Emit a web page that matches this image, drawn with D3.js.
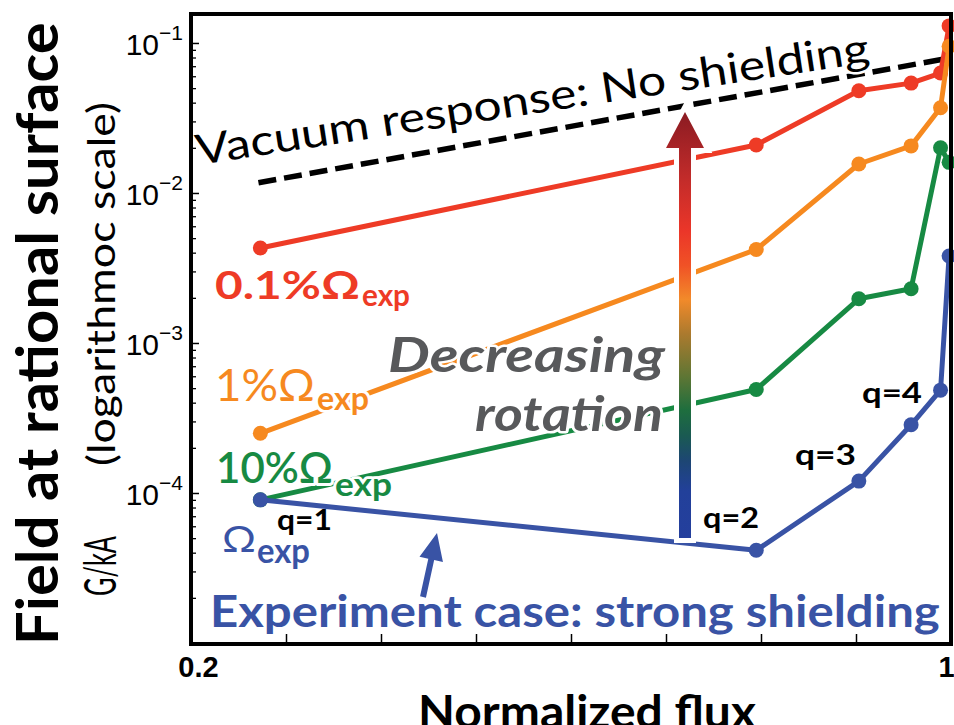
<!DOCTYPE html>
<html>
<head>
<meta charset="utf-8">
<script src="https://cdn.jsdelivr.net/npm/d3@7"></script>
<style>
  body { margin: 0; background: #fff; }
  svg { display: block; }
  .halo { stroke: #fff; stroke-width: 6px; stroke-linejoin: round; paint-order: stroke; }
</style>
</head>
<body>
<div id="chart"></div>
<script>
// normalized flux of the rational surfaces (q=1 ... q=6)
var flux = [0.273, 0.795, 0.903, 0.958, 0.989, 0.998];

// field at rational surface (G/kA), one array per rotation case
var rot01  = [4.3e-3, 2.09e-2, 4.8e-2, 5.4e-2, 6.3e-2, 0.13];
var rot1   = [2.5e-4, 4.2e-3, 1.56e-2, 2.06e-2, 3.7e-2, 0.095];
var rot10  = [9.0e-5, 4.9e-4, 1.97e-3, 2.3e-3, 2.0e-2, 1.6e-2];
var rotExp = [9.0e-5, 4.15e-5, 1.2e-4, 2.85e-4, 4.85e-4, 3.8e-3];

// vacuum response, no shielding (dashed)
var vacFlux = [0.271, 0.997];
var vacuum  = [1.17e-2, 7.9e-2];

// axes
var xTicks  = [0.2, 0.3, 0.4, 0.5, 0.6, 0.7, 0.8, 0.9, 1];
var xLabels = ["0.2", "", "", "", "", "", "", "", "1"];
var yMajor  = [1e-1, 1e-2, 1e-3, 1e-4];
var yExp    = ["\u22121", "\u22122", "\u22123", "\u22124"];

var RED = "#EE3B26", ORANGE = "#F6891F", GREEN = "#178A43", BLUE = "#3953A5", GREY = "#58595B";
var FONT = "Lato, 'Open Sans', sans-serif";

var width = 954, height = 725;

var svg = d3.select("#chart").append("svg")
    .attr("width", width)
    .attr("height", height)
    .attr("font-family", FONT);

var x = d3.scaleLinear().domain([0.2, 1]).range([191, 951]);
var y = d3.scaleLog().domain([1e-5, 0.156]).range([643, 14]);

var line = d3.line()
    .x(function(d) { return x(d[0]); })
    .y(function(d) { return y(d[1]); });

// x axis, ticks pointing into the plot
var gX = svg.append("g")
    .attr("transform", "translate(0,644)")
    .call(d3.axisBottom(x).tickValues(xTicks).tickSize(-10).tickPadding(12)
      .tickFormat(function(d, i) { return xLabels[i]; }));
gX.select(".domain").remove();
gX.selectAll(".tick line").attr("stroke-width", 1.5);
gX.selectAll(".tick text")
    .attr("font-family", "'Liberation Sans', Arial, sans-serif")
    .attr("font-weight", "bold")
    .attr("font-size", 29)
    .attr("fill", "#000")
    .attr("dx", function(d, i) { return i == 0 ? 7 : (i == xTicks.length - 1 ? -5 : 0); });

// y axis minor ticks
var minor = y.ticks().filter(function(d) {
  var e = Math.log10(d);
  return Math.abs(e - Math.round(e)) > 1e-6;
});
var gYm = svg.append("g")
    .attr("transform", "translate(191,0)")
    .call(d3.axisLeft(y).tickValues(minor).tickSize(-5).tickFormat(""));
gYm.select(".domain").remove();
gYm.selectAll(".tick line").attr("stroke-width", 1.3);

// y axis major ticks, labels 10^-n
var gY = svg.append("g")
    .attr("transform", "translate(191,0)")
    .call(d3.axisLeft(y).tickValues(yMajor).tickSize(-8).tickPadding(8).tickFormat(""));
gY.select(".domain").remove();
gY.selectAll(".tick line").attr("stroke-width", 1.5);
gY.selectAll(".tick text")
    .attr("font-family", "'Liberation Sans Narrow', 'Arial Narrow', 'Liberation Sans', sans-serif")
    .attr("font-size", 30)
    .attr("fill", "#000")
    .attr("dy", "0.4em")
    .each(function(d, i) {
      var t = d3.select(this);
      t.text(null);
      t.append("tspan").text("10");
      t.append("tspan").attr("dy", -15).attr("font-size", 21).text(yExp[i]);
    });

// vacuum response
svg.append("path")
    .datum(d3.zip(vacFlux, vacuum))
    .attr("d", line)
    .attr("fill", "none")
    .attr("stroke", "#000")
    .attr("stroke-width", 5.5)
    .attr("stroke-dasharray", "18,8");

// rotation cases
var series = [
  {vals: rot01, color: RED},
  {vals: rot1, color: ORANGE},
  {vals: rot10, color: GREEN},
  {vals: rotExp, color: BLUE}
];
series.forEach(function(s) {
  var pts = d3.zip(flux, s.vals);
  var g = svg.append("g");
  g.append("path")
      .datum(pts)
      .attr("d", line)
      .attr("fill", "none")
      .attr("stroke", s.color)
      .attr("stroke-width", 5)
      .attr("stroke-linejoin", "round");
  g.selectAll("circle")
      .data(pts)
      .enter()
      .append("circle")
      .attr("cx", function(d) { return x(d[0]); })
      .attr("cy", function(d) { return y(d[1]); })
      .attr("r", 7.5)
      .attr("fill", s.color);
});

// gradient arrow "decreasing rotation"
var defs = svg.append("defs");
var grad = defs.append("linearGradient")
    .attr("id", "rotGrad")
    .attr("gradientUnits", "userSpaceOnUse")
    .attr("x1", 0).attr("y1", 112).attr("x2", 0).attr("y2", 538);
[[0, "#8A1B22"], [0.15, "#C02B2A"], [0.28, "#EB3629"], [0.36, "#F05226"], [0.44, "#F28A2A"],
 [0.52, "#AC7A2E"], [0.62, "#5F7634"], [0.70, "#1E6E3E"], [0.76, "#1A5A52"], [0.82, "#1D4674"],
 [0.89, "#22409A"], [1, "#243F9D"]].forEach(function(s) {
  grad.append("stop").attr("offset", s[0]).attr("stop-color", s[1]);
});

function arrowPath(x1, y1, x2, y2, shaft, headW, headL) {
  var dx = x2 - x1, dy = y2 - y1, len = Math.sqrt(dx * dx + dy * dy);
  var ux = dx / len, uy = dy / len, nx = -uy, ny = ux;
  var bx = x2 - ux * headL, by = y2 - uy * headL;
  var p = [
    [x1 + nx * shaft / 2, y1 + ny * shaft / 2],
    [bx + nx * shaft / 2, by + ny * shaft / 2],
    [bx + nx * headW / 2, by + ny * headW / 2],
    [x2, y2],
    [bx - nx * headW / 2, by - ny * headW / 2],
    [bx - nx * shaft / 2, by - ny * shaft / 2],
    [x1 - nx * shaft / 2, y1 - ny * shaft / 2]
  ];
  return "M" + p.map(function(d) { return d.join(","); }).join("L") + "Z";
}

var bigArrow = arrowPath(685, 538, 685, 112, 12, 38, 36);
svg.append("path").attr("d", bigArrow).attr("fill", "#fff").attr("stroke", "#fff").attr("stroke-width", 10);
svg.append("path").attr("d", bigArrow).attr("fill", "url(#rotGrad)");

// small arrow to the experiment case
svg.append("path")
    .attr("d", arrowPath(423, 597, 437, 533, 6, 24, 27))
    .attr("fill", BLUE);

// text helper: squeeze horizontally to the wanted length, keep glyph height
function label(txt, px, py, o) {
  var t = svg.append("text")
      .attr("font-size", o.size)
      .attr("font-weight", o.weight || "normal")
      .attr("fill", o.fill || "#000")
      .text(txt);
  if (o.italic) t.attr("font-style", "italic");
  var sx = o.len ? o.len / t.node().getComputedTextLength() : 1;
  if (o.halo) t.attr("class", "halo").style("stroke-width", (6 / sx) + "px");
  t.attr("transform", "translate(" + px + "," + py + ") rotate(" + (o.rotate || 0) + ") scale(" + sx + ",1)");
  return t;
}

// curve labels
label("0.1%\u03A9", 215, 299, {size: 38, weight: "bold", fill: RED, len: 145, halo: 1});
label("exp", 362, 306, {size: 31, weight: "bold", fill: RED, len: 48, halo: 1});
label("1%\u03A9", 215, 401, {size: 44, fill: ORANGE, len: 100, halo: 1});
label("exp", 317, 410, {size: 33, weight: "bold", fill: ORANGE, len: 52, halo: 1});
label("10%\u03A9", 216, 483, {size: 43, weight: 600, fill: GREEN, len: 117, halo: 1});
label("exp", 335, 496, {size: 33, weight: "bold", fill: GREEN, len: 57, halo: 1});
label("\u03A9", 222, 552, {size: 36, fill: BLUE, len: 34, halo: 1});
label("exp", 257, 563, {size: 34, weight: "bold", fill: BLUE, len: 53, halo: 1});

// q labels
label("q=1", 277, 530, {size: 28, weight: "bold", len: 55});
label("q=2", 703, 528, {size: 28, weight: "bold", len: 56});
label("q=3", 795, 465, {size: 28, weight: "bold", len: 61});
label("q=4", 862, 403, {size: 28, weight: "bold", len: 60});

// annotations
label("Vacuum response: No shielding", 198, 165, {size: 42, len: 681, halo: 1, rotate: -8.7});
label("Decreasing", 388, 372, {size: 48, weight: "bold", italic: 1, fill: GREY, len: 277, halo: 1});
label("rotation", 475, 431, {size: 48, weight: "bold", italic: 1, fill: GREY, len: 188, halo: 1});
label("Experiment case: strong shielding", 210, 627, {size: 44, weight: "bold", fill: BLUE, len: 730, halo: 1});

// axis titles
label("Normalized flux", 418, 728, {size: 46, weight: "bold", len: 338});
label("Field at rational surface", 58, 645, {size: 57, weight: "bold", len: 623, rotate: -90});
label("G/kA", 116, 596, {size: 44, len: 60, rotate: -90});
label("(logarithmoc scale)", 115, 466, {size: 38, len: 364, rotate: -90});

// plot frame on top
svg.append("rect")
    .attr("x", x(0.2)).attr("y", y(0.156))
    .attr("width", x(1) - x(0.2)).attr("height", y(1e-5) - y(0.156) + 1)
    .attr("fill", "none")
    .attr("stroke", "#000")
    .attr("stroke-width", 4);
</script>
</body>
</html>
